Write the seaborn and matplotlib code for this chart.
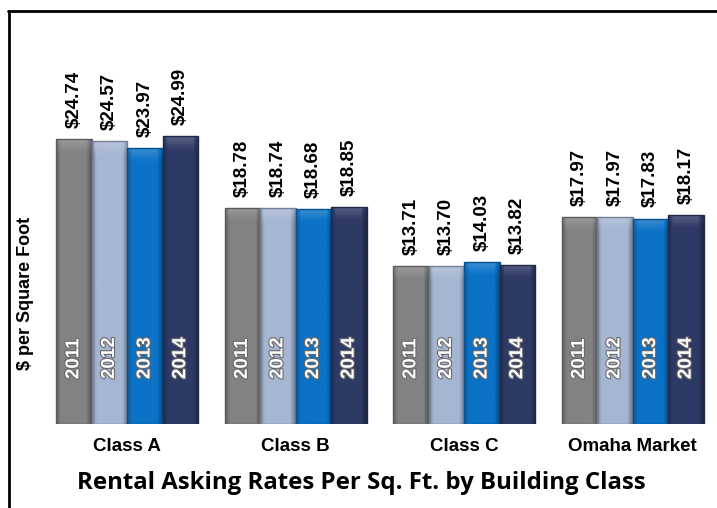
import matplotlib
matplotlib.use("Agg")
import matplotlib.pyplot as plt
import matplotlib.colors as mcolors
from matplotlib import patheffects as pe
from matplotlib.lines import Line2D
import numpy as np
import seaborn as sns
import pandas as pd

categories = ["Class A", "Class B", "Class C", "Omaha Market"]
years = ["2011", "2012", "2013", "2014"]
rates_2011 = [24.74, 18.78, 13.71, 17.97]
rates_2012 = [24.57, 18.74, 13.70, 17.97]
rates_2013 = [23.97, 18.68, 14.03, 17.83]
rates_2014 = [24.99, 18.85, 13.82, 18.17]
colors = ["#828282", "#a6b6d2", "#0b72c6", "#2e3a66"]

rows = []
for yr, vals in zip(years, [rates_2011, rates_2012, rates_2013, rates_2014]):
    for c, v in zip(categories, vals):
        rows.append({"Category": c, "Year": yr, "Rate": v})
df = pd.DataFrame(rows)

sns.set_theme(style="white")
plt.rcParams['font.family'] = ['Liberation Sans', 'DejaVu Sans']

W, H = 717, 508
fig = plt.figure(figsize=(W / 100, H / 100), dpi=100)
fig.patch.set_facecolor("white")
ax = fig.add_axes([43 / W, (H - 424) / H, 674 / W, 413 / H])
sns.barplot(data=df, x="Category", y="Rate", hue="Year", order=categories,
            hue_order=years, palette=colors, width=0.845, gap=0, ax=ax,
            legend=False, saturation=1)
XL = (-0.5, 3.5)
YL = (0, 413 / 11.52)
ax.set_xlim(*XL)
ax.set_ylim(*YL)

def scale(c, f):
    r, g, b = mcolors.to_rgb(c)
    if f <= 1:
        return np.array([r * f, g * f, b * f])
    t = f - 1
    return np.array([r + (1 - r) * t, g + (1 - g) * t, b + (1 - b) * t])

# horizontal bevel profile across the bar width
nx = 40
u = np.linspace(0, 1, nx)
prof = np.where(u < 0.12, 0.72 + (u / 0.12) * 0.28,
                np.where(u > 0.85, 1.0 - ((u - 0.85) / 0.15) * 0.35, 1.0))

for cont, yr, col in zip(ax.containers, years, colors):
    for bar in cont:
        x0, w, h = bar.get_x(), bar.get_width(), bar.get_height()
        # body gradient
        ny = 60
        img = np.zeros((ny, nx, 3))
        cap_px = 12  # top bevel in pixels
        cap_frac = cap_px / (h * 11.52)
        v = np.linspace(1, 0, ny)  # top -> bottom
        for i in range(ny):
            for j in range(nx):
                f = prof[j]
                if v[i] > 1 - cap_frac:
                    f = f + 0.18 * (1 - (1 - v[i]) / cap_frac)
                img[i, j] = scale(col, f) if f <= 1 else scale(col, f)
        img = np.clip(img, 0, 1)
        im = ax.imshow(img, extent=(x0, x0 + w, 0, h), aspect="auto",
                       interpolation="bilinear", zorder=bar.get_zorder() + 0.1)
        im.set_clip_path(bar)
        bar.set_edgecolor(scale(col, 0.7))
        bar.set_linewidth(1.0)
        bar.set_zorder(bar.get_zorder() + 0.2)
        bar.set_facecolor("none")
        xc = x0 + w / 2
        ax.annotate(f"${h:.2f}", (xc, h), xytext=(0, 8), textcoords="offset points",
                    rotation=90, ha="center", va="bottom", fontsize=13.5,
                    fontweight="bold", color="black")
        ax.text(xc, 3.9, yr, rotation=90, ha="center", va="bottom", color="white",
                fontsize=13.5, fontweight="bold", zorder=5,
                path_effects=[pe.withStroke(linewidth=1.6, foreground="#6a6a6a")])

ax.set_xlim(*XL)
ax.set_ylim(*YL)
for s in ax.spines.values():
    s.set_visible(False)
ax.set_yticks([])
ax.set_xlabel("")
ax.set_ylabel("")
ax.tick_params(axis="x", length=0, pad=10, labelsize=13.5)
for lbl in ax.get_xticklabels():
    lbl.set_fontweight("bold")
    lbl.set_color("black")

fig.text(26 / W, (H - 293) / H, "$ per Square Foot", rotation=90, ha="center",
         va="center", fontsize=13, fontweight="bold", color="black")
fig.text(361 / W, (H - 483) / H, "Rental Asking Rates Per Sq. Ft. by Building Class",
         ha="center", va="center", fontsize=17.3, fontweight="bold", color="black",
         family=["Open Sans", "DejaVu Sans"])

fig.add_artist(Line2D([8.5 / W, 8.5 / W], [0, (H - 11) / H], color="black", lw=2,
                      transform=fig.transFigure))
fig.add_artist(Line2D([7.5 / W, 1], [(H - 11) / H, (H - 11) / H], color="black", lw=2,
                      transform=fig.transFigure))

fig.savefig("out.png", dpi=100)
